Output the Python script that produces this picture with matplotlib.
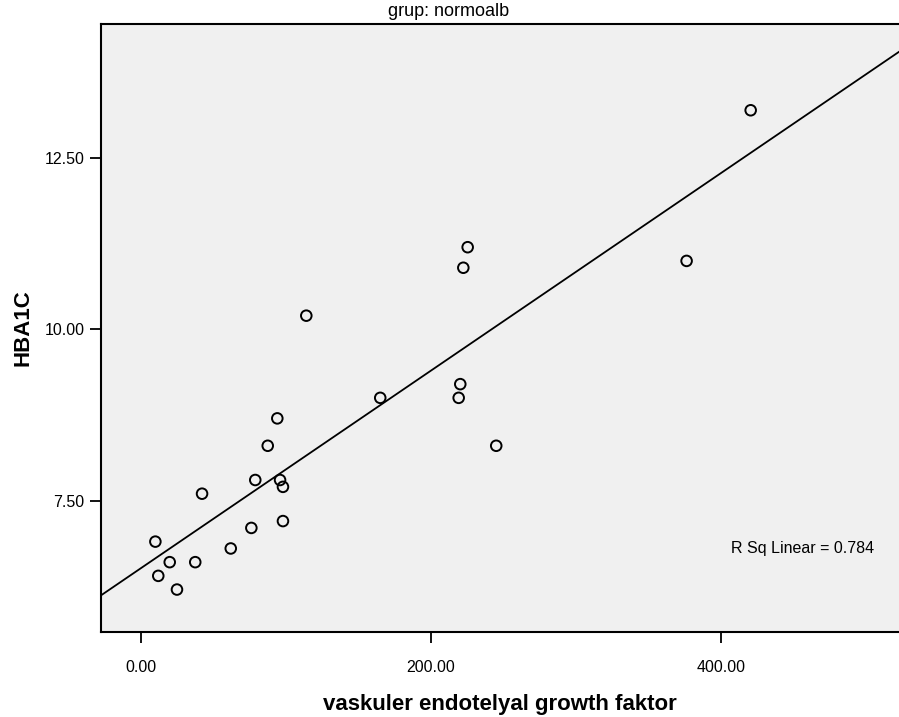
import numpy as np
import matplotlib
matplotlib.use("Agg")
import matplotlib.pyplot as plt

plt.rcParams['font.family'] = ['Liberation Sans', 'DejaVu Sans']

# VEGF (x) vs HbA1c (y), normoalbuminuria group
vegf = [420.5, 376.3, 225.3, 222.3, 114.0, 220.2, 219.1, 165.0, 94.0, 87.4,
        245.0, 78.8, 95.9, 97.9, 42.1, 97.9, 76.1, 9.9, 61.9, 19.8,
        37.4, 11.9, 24.8]
hba1c = [13.2, 11.0, 11.2, 10.9, 10.2, 9.2, 9.0, 9.0, 8.7, 8.3,
         8.3, 7.8, 7.8, 7.7, 7.6, 7.2, 7.1, 6.9, 6.8, 6.6,
         6.6, 6.4, 6.2]
r_sq = 0.784
group_title = "grup: normoalb"
x_label = "vaskuler endotelyal growth faktor"
y_label = "HBA1C"
x_ticks = [0, 200, 400]
y_ticks = [7.5, 10.0, 12.5]

x = np.array(vegf)
y = np.array(hba1c)

fig = plt.figure(figsize=(8.99, 7.17), dpi=100)
ax = fig.add_axes([101 / 899, 1 - 632 / 717, (899 - 101) / 899, (632 - 24) / 717])
ax.set_facecolor('#f0f0f0')

xlim = (-27.6, 522.8)
ax.set_xlim(*xlim)
ax.set_ylim(5.58, 14.46)

# least-squares fit line across the full x range
slope, intercept = np.polyfit(x, y, 1)
xs = np.array(xlim)
ax.plot(xs, slope * xs + intercept, color='black', lw=1.3, zorder=2)

ax.scatter(x, y, s=58, facecolors='none', edgecolors='black', linewidths=1.4, zorder=3)

ax.set_xticks(x_ticks)
ax.set_xticklabels([f"{v:.2f}" for v in x_ticks])
ax.set_yticks(y_ticks)
ax.set_yticklabels([f"{v:.2f}" for v in y_ticks])
ax.tick_params(axis='both', direction='out', length=8, width=1.3, labelsize=11.5)
ax.tick_params(axis='x', pad=12)
ax.tick_params(axis='y', pad=4)

for side in ('left', 'bottom', 'top'):
    ax.spines[side].set_linewidth(1.5)
ax.spines['right'].set_visible(False)

ax.set_xlabel(x_label, fontsize=16, fontweight='bold', labelpad=14)
ax.set_ylabel(y_label, fontsize=16, fontweight='bold', labelpad=8)

fig.text(449 / 899, 1 - 11 / 717, group_title, ha='center', va='center', fontsize=13)
ax.text((874 - 101) / (899 - 101), (632 - 548) / (632 - 24), f"R Sq Linear = {r_sq}",
        transform=ax.transAxes, ha='right', va='center', fontsize=11.5)

fig.savefig("out.png", dpi=100)
